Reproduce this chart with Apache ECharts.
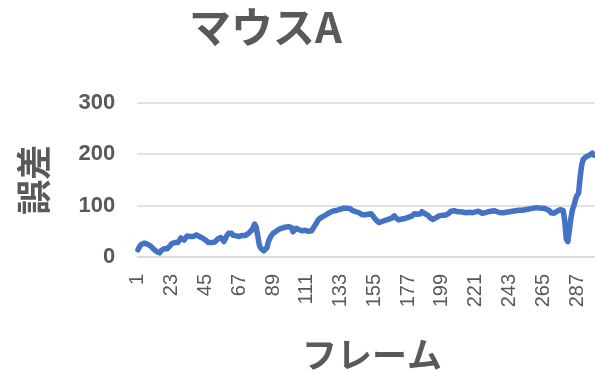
<!DOCTYPE html>
<html><head><meta charset="utf-8">
<script src="https://cdn.jsdelivr.net/npm/echarts@6/dist/echarts.min.js"></script>
<style>html,body{margin:0;padding:0;background:#fff}#c{width:595px;height:373px}</style>
</head><body><div id="c"></div>
<script>
const titleText = "マウスA";
const yName = "誤差";
const xName = "フレーム";
const yTicks = [0, 100, 200, 300];
const values = [
14,20,24,26,27, 26,25,24,22,20, 16,13,11,9,8, 12,15,16,17,16,
18,22,26,27,28, 29,28,30,37,40, 33,34,41,43,40, 37,40,42,43,42,
40,38,37,35,33, 30,28,27,28,28, 29,32,35,36,38, 35,30,33,42,46,
49,46,42,40,41, 40,40,41,42,41, 42,43,46,49,52, 57,64,58,42,24,
17,14,12,11,18, 30,37,42,46,48, 50,53,54,55,56, 57,58,58,59,59,
57,49,52,56,55, 53,51,51,52,52, 51,50,50,51,55, 60,65,70,74,77,
78,79,81,82,85, 87,88,89,90,91, 91,92,93,94,95, 96,95,94,94,92,
90,88,88,87,86, 84,82,81,82,83, 83,83,84,80,77, 72,69,67,68,69,
70,71,72,73,72, 75,78,80,76,73, 72,73,74,75,75, 76,77,78,79,80,
84,85,83,82,84, 88,85,84,83,81, 77,74,73,74,76, 78,80,80,81,81,
81,82,84,87,89, 91,90,89,88,88, 88,87,87,86,86, 86,87,86,86,87,
88,88,89,88,85, 84,86,87,88,88, 89,90,90,89,88, 87,86,86,86,86,
87,88,88,89,89, 90,90,90,91,91, 91,92,92,93,93, 94,94,95,95,96,
96,96,95,94,95, 94,93,94,90,86, 84,85,87,89,90, 92,94,90,70,35,
30,28,75,92,100, 112,120,124,155,178, 190,193,195,197,198, 200,202,198
];
const frames = values.map((v, i) => String(i + 1));

const chart = echarts.init(document.getElementById('c'));
chart.setOption({
  animation: false,
  title: {
    text: titleText, left: 184, top: 1,
    textStyle: {fontFamily: 'Noto Sans CJK JP', fontSize: 42, fontWeight: 'bold', color: '#595959'}
  },
  grid: {left: 137.2, right: 0.3, top: 102.7, bottom: 112.7, containLabel: false},
  xAxis: {
    type: 'category', data: frames, boundaryGap: true,
    name: xName, nameLocation: 'middle', nameGap: 80,
    nameTextStyle: {fontFamily: 'Noto Sans CJK JP', fontSize: 35, fontWeight: 'bold', color: '#595959', padding: [0,0,0,12]},
    axisLine: {show: true, lineStyle: {color: '#d9d9d9', width: 1.5}},
    axisTick: {show: false},
    axisLabel: {interval: 21, rotate: 90, margin: 17, fontFamily: 'Liberation Sans', fontSize: 20, color: '#595959'}
  },
  yAxis: {
    type: 'value', min: yTicks[0], max: yTicks[yTicks.length-1], interval: 100,
    name: yName, nameLocation: 'middle', nameGap: 86, nameRotate: 90,
    nameTextStyle: {fontFamily: 'Noto Sans CJK JP', fontSize: 35, fontWeight: 'bold', color: '#595959'},
    axisLine: {show: false}, axisTick: {show: false},
    splitLine: {lineStyle: {color: '#d9d9d9', width: 1.5}},
    axisLabel: {margin: 22, fontFamily: 'Liberation Sans', fontSize: 22, fontWeight: 'bold', color: '#595959'}
  },
  series: [{
    type: 'line', data: values, showSymbol: false, symbol: 'none',
    lineStyle: {color: '#4472C4', width: 5.5, cap: 'round', join: 'round'}
  }]
});
</script></body></html>
